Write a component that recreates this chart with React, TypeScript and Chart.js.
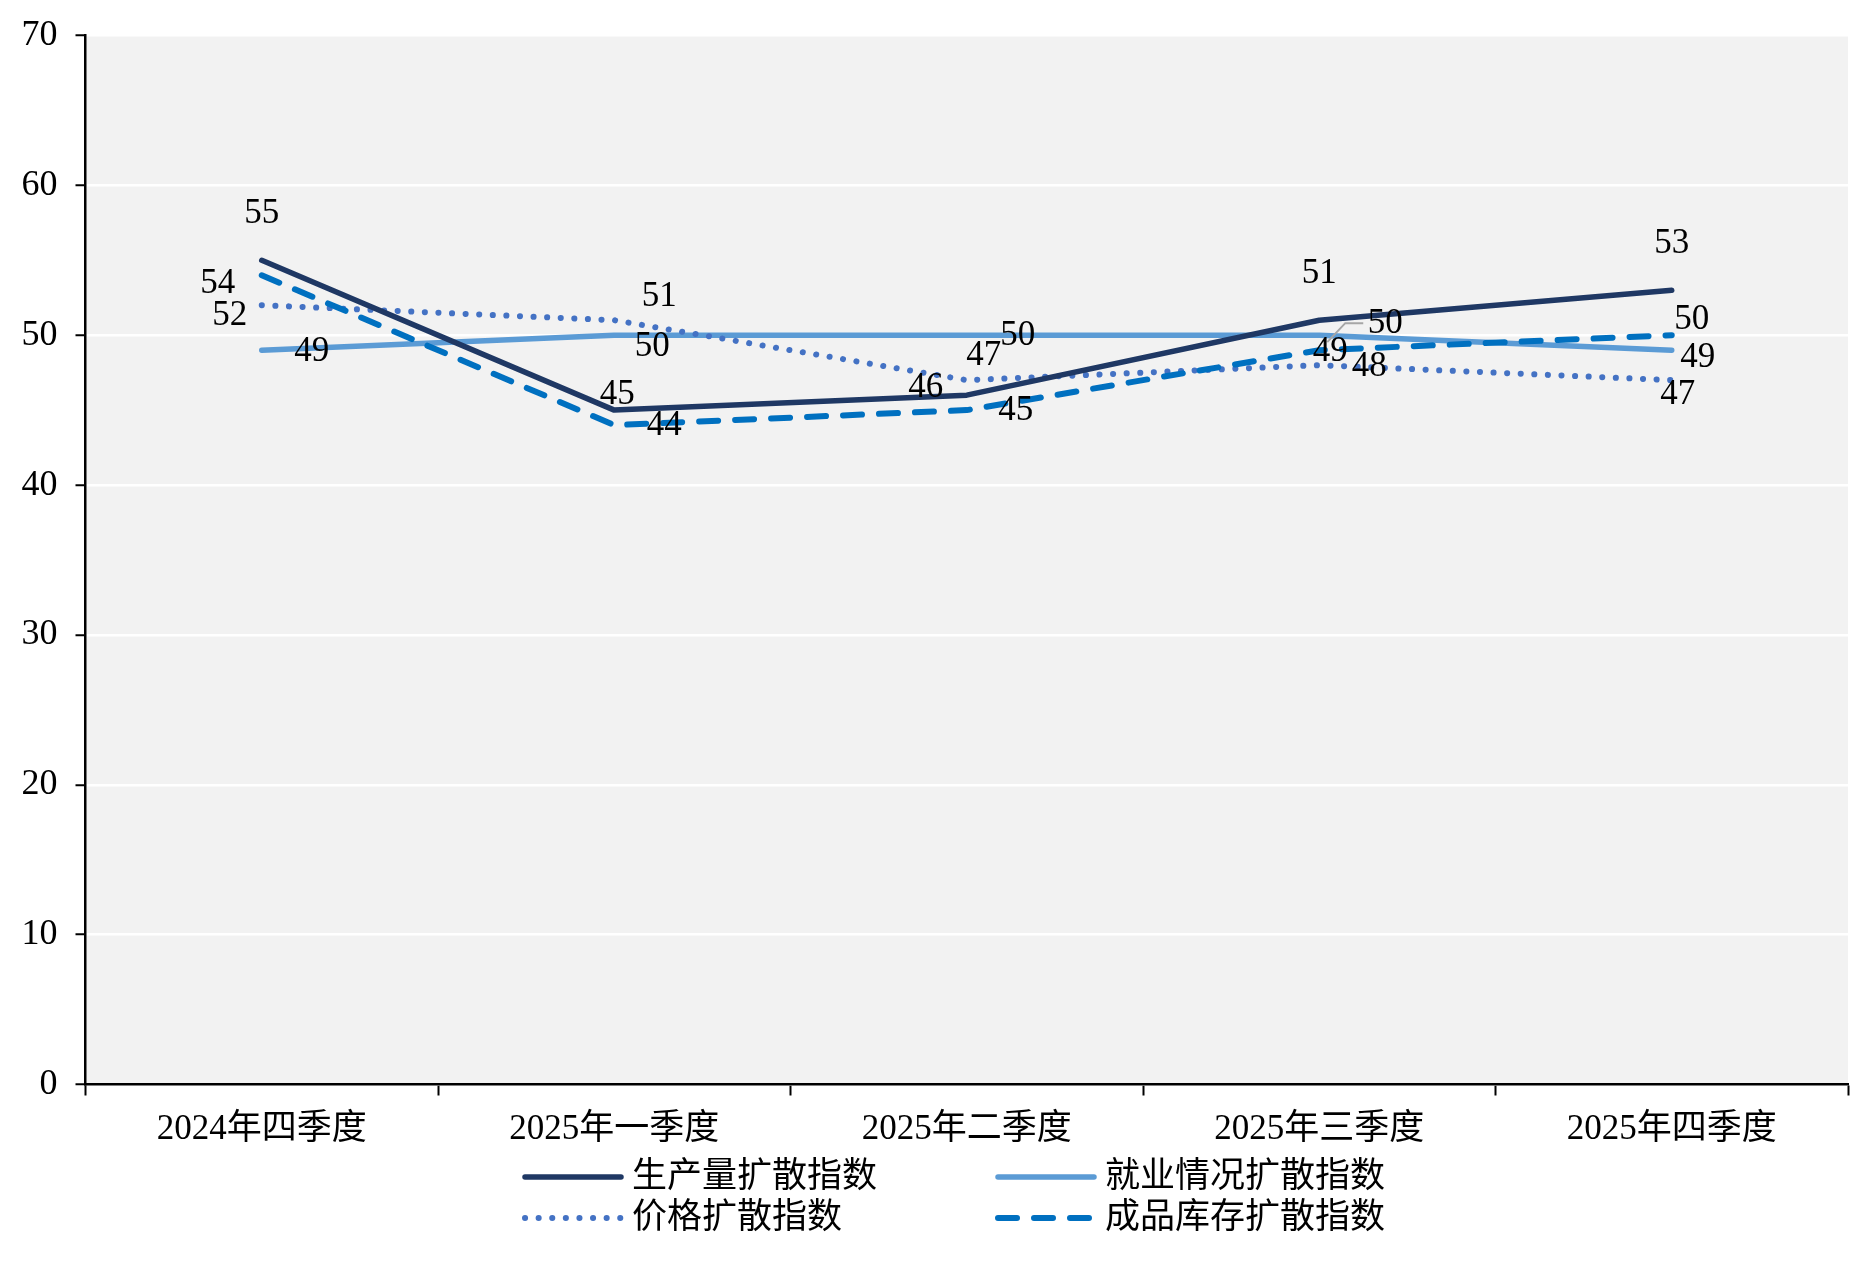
import React, { useEffect, useRef } from "react";
import { Chart, registerables } from "chart.js";

Chart.register(...registerables);

const CATEGORIES = ["2024年四季度", "2025年一季度", "2025年二季度", "2025年三季度", "2025年四季度"];
const SERIES_NAMES = ["生产量扩散指数", "就业情况扩散指数", "价格扩散指数", "成品库存扩散指数"];
const PRODUCTION = [55, 45, 46, 51, 53];
const EMPLOYMENT = [49, 50, 50, 50, 49];
const PRICE = [52, 51, 47, 48, 47];
const INVENTORY = [54, 44, 45, 49, 50];
const Y_MIN = 0;
const Y_MAX = 70;
const Y_STEP = 10;

// label placement offsets (pixels) for each series / point
const LABEL_OFFSETS: number[][][] = [
  [[0, -46], [3, -15], [-41, -7], [0, -46], [0, -46]],
  [[50, 2], [38, 12], [51, 1], [66, -11], [26, 8]],
  [[-32, 11], [45, -23], [17, -24], [50, 2], [6, 15]],
  [[-44, 9], [50, 1], [49, 1], [11, 2], [20, -15]],
];

const FONT = "'Liberation Serif', 'Noto Sans CJK SC', serif";
const FS = 35;

const bgPlugin = {
  id: "plotBg",
  beforeDraw(chart: any) {
    const { ctx, chartArea } = chart;
    ctx.save();
    ctx.fillStyle = "#F2F2F2";
    ctx.fillRect(chartArea.left, chartArea.top, chartArea.right - chartArea.left, chartArea.bottom - chartArea.top);
    ctx.restore();
  },
};

const labelPlugin = {
  id: "valueLabels",
  afterDatasetsDraw(chart: any) {
    const { ctx } = chart;
    ctx.save();
    ctx.font = `${FS}px ${FONT}`;
    ctx.fillStyle = "#000";
    ctx.textAlign = "center";
    ctx.textBaseline = "middle";
    chart.data.datasets.forEach((ds: any, i: number) => {
      const meta = chart.getDatasetMeta(i);
      meta.data.forEach((pt: any, j: number) => {
        const off = LABEL_OFFSETS[i][j];
        const x = pt.x + off[0];
        const y = pt.y + off[1];
        if (i === 1 && j === 3) {
          ctx.save();
          ctx.strokeStyle = "#A6A6A6";
          ctx.lineWidth = 2;
          ctx.beginPath();
          ctx.moveTo(pt.x + 8, pt.y + 7);
          ctx.lineTo(pt.x + 26, pt.y - 12);
          ctx.lineTo(pt.x + 44, pt.y - 12);
          ctx.stroke();
          ctx.restore();
        }
        ctx.fillText(String(ds.data[j]), x, y);
      });
    });
    ctx.restore();
  },
};

const legendPlugin = {
  id: "customLegend",
  afterDraw(chart: any) {
    const { ctx } = chart;
    const colLineX = [522, 995];
    const lineLen = 102;
    const rowY = [1177, 1218];
    ctx.save();
    ctx.font = `${FS}px ${FONT}`;
    ctx.fillStyle = "#000";
    ctx.textAlign = "left";
    ctx.textBaseline = "middle";
    chart.data.datasets.forEach((ds: any, i: number) => {
      const col = i % 2;
      const row = Math.floor(i / 2);
      const x0 = colLineX[col];
      const y = rowY[row];
      ctx.save();
      ctx.strokeStyle = ds.borderColor;
      ctx.lineWidth = ds.borderWidth;
      ctx.lineCap = ds.borderCapStyle || "round";
      ctx.setLineDash(ds.borderDash || []);
      ctx.beginPath();
      ctx.moveTo(x0 + 3, y);
      ctx.lineTo(x0 + lineLen - 3, y);
      ctx.stroke();
      ctx.restore();
      ctx.fillText(ds.label, x0 + lineLen + 8, y + 1);
    });
    ctx.restore();
  },
};

export default function App() {
  const canvasRef = useRef<HTMLCanvasElement | null>(null);

  useEffect(() => {
    document.body.style.margin = "0";
    const canvas = canvasRef.current;
    if (!canvas) return;
    const chart = new Chart(canvas, {
      type: "line",
      data: {
        labels: CATEGORIES,
        datasets: [
          {
            label: SERIES_NAMES[0],
            data: PRODUCTION,
            borderColor: "#1F3864",
            borderWidth: 5.5,
            borderCapStyle: "round",
            borderJoinStyle: "round",
            pointRadius: 0,
            tension: 0,
            order: 1,
          },
          {
            label: SERIES_NAMES[1],
            data: EMPLOYMENT,
            borderColor: "#5B9BD5",
            borderWidth: 5.5,
            borderCapStyle: "round",
            borderJoinStyle: "round",
            pointRadius: 0,
            tension: 0,
            order: 4,
          },
          {
            label: SERIES_NAMES[2],
            data: PRICE,
            borderColor: "#4472C4",
            borderWidth: 6,
            borderDash: [0.1, 13.5],
            borderCapStyle: "round",
            borderJoinStyle: "round",
            pointRadius: 0,
            tension: 0,
            order: 3,
          },
          {
            label: SERIES_NAMES[3],
            data: INVENTORY,
            borderColor: "#0070C0",
            borderWidth: 6,
            borderDash: [19, 17],
            borderCapStyle: "round",
            borderJoinStyle: "round",
            pointRadius: 0,
            tension: 0,
            order: 2,
          },
        ],
      } as any,
      options: {
        animation: false,
        responsive: true,
        maintainAspectRatio: false,
        layout: { padding: { left: 3.5, right: 14, top: 20, bottom: 100.5 } },
        plugins: {
          legend: { display: false },
          tooltip: { enabled: false },
        },
        scales: {
          x: {
            offset: true,
            grid: {
              offset: true,
              drawOnChartArea: false,
              drawTicks: true,
              tickLength: 11,
              tickColor: "#000",
              tickWidth: 2,
            },
            border: { color: "#000", width: 2.5 },
            ticks: {
              color: "#000",
              font: { family: FONT, size: FS },
              padding: 13,
              maxRotation: 0,
            },
          },
          y: {
            min: Y_MIN,
            max: Y_MAX,
            ticks: {
              stepSize: Y_STEP,
              color: "#000",
              font: { family: FONT, size: 36, lineHeight: 0.97 },
              padding: 18,
            },
            grid: {
              color: "#FFFFFF",
              lineWidth: 2.5,
              drawTicks: true,
              tickLength: 10,
              tickColor: "#000",
              tickWidth: 2,
            },
            border: { color: "#000", width: 2.5 },
          },
        },
      } as any,
      plugins: [bgPlugin, labelPlugin, legendPlugin],
    });
    return () => chart.destroy();
  }, []);

  return (
    <div style={{ width: "1862px", height: "1264px", position: "relative" }}>
      <canvas ref={canvasRef} />
    </div>
  );
}
